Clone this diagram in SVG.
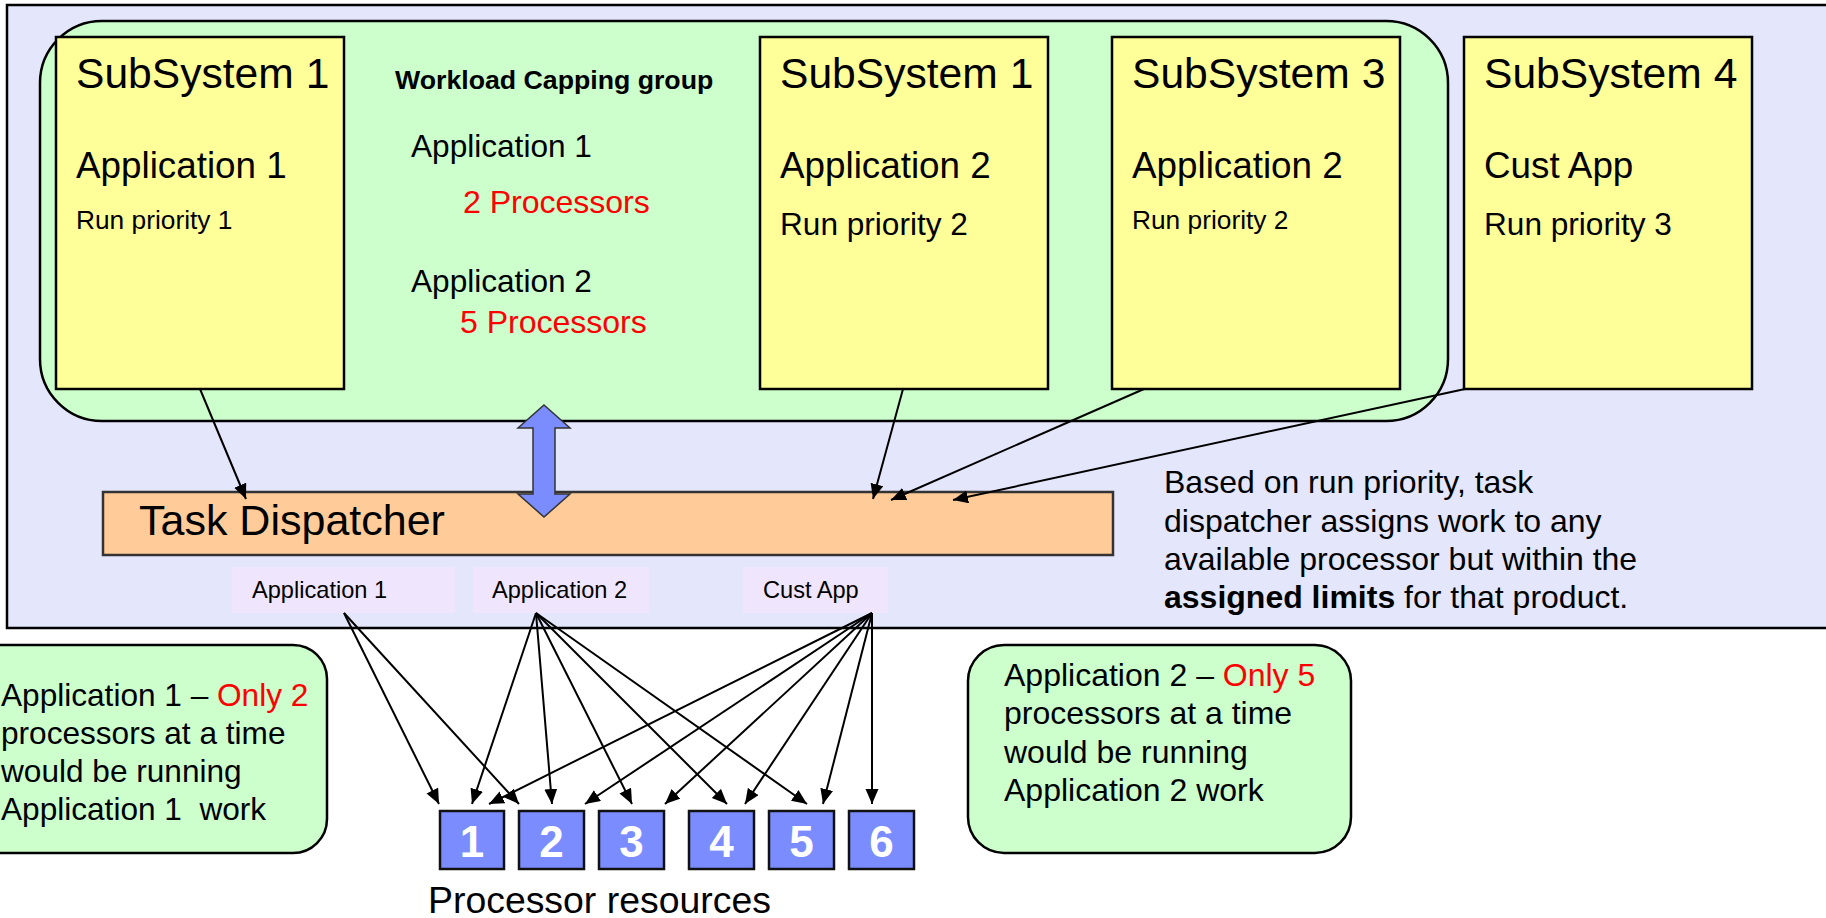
<svg xmlns="http://www.w3.org/2000/svg" width="1826" height="918" viewBox="0 0 1826 918">
<style>
text{font-family:"Liberation Sans",Arial,sans-serif;fill:#000}
.ss{fill:#FFFF99;stroke:#000;stroke-width:2.5}
.t42{font-size:42.6px}
.t36{font-size:36.8px}
.t31{font-size:31.6px}
.t32{font-size:32px}
.t26{font-size:26.3px}
.red{fill:#FF0000}
.lbl{fill:#EFE5FC}
.proc{fill:#7B8CFF;stroke:#111;stroke-width:2.5}
.num{font-size:44px;font-weight:bold;fill:#fff;text-anchor:middle}
.note{fill:#CCFFCC;stroke:#000;stroke-width:2.5}
.conn line{stroke:#000;stroke-width:2;marker-end:url(#ah)}
</style>
<defs>
<marker id="ah" markerUnits="userSpaceOnUse" markerWidth="16" markerHeight="14" refX="15" refY="6.5" orient="auto">
<path d="M0,0 L15,6.5 L0,13 z" fill="#000"/>
</marker>
</defs>
<rect x="0" y="0" width="1826" height="918" fill="#fff"/>
<g id="outer">
<rect x="7" y="5" width="1830" height="623" fill="#E4E6FB" stroke="#000" stroke-width="2.5"/>
</g>
<g id="capping-group">
<rect x="40" y="21" width="1408" height="400" rx="62" ry="62" fill="#CCFFCC" stroke="#000" stroke-width="2.5"/>
<text x="395" y="89" style="font-size:26.7px;font-weight:bold">Workload Capping group</text>
<text x="411" y="157" class="t31">Application 1</text>
<text x="463" y="213" class="t32 red">2 Processors</text>
<text x="411" y="292" class="t31">Application 2</text>
<text x="460" y="333" class="t32 red">5 Processors</text>
</g>
<g id="ss1a">
<rect class="ss" x="56" y="37" width="288" height="352"/>
<text x="76" y="88" class="t42">SubSystem 1</text>
<text x="76" y="178" class="t36">Application 1</text>
<text x="76" y="229" class="t26">Run priority 1</text>
</g>
<g id="ss1b">
<rect class="ss" x="760" y="37" width="288" height="352"/>
<text x="780" y="88" class="t42">SubSystem 1</text>
<text x="780" y="178" class="t36">Application 2</text>
<text x="780" y="235" class="t31">Run priority 2</text>
</g>
<g id="ss3">
<rect class="ss" x="1112" y="37" width="288" height="352"/>
<text x="1132" y="88" class="t42">SubSystem 3</text>
<text x="1132" y="178" class="t36">Application 2</text>
<text x="1132" y="229" class="t26">Run priority 2</text>
</g>
<g id="ss4">
<rect class="ss" x="1464" y="37" width="288" height="352"/>
<text x="1484" y="88" class="t42">SubSystem 4</text>
<text x="1484" y="178" class="t36">Cust App</text>
<text x="1484" y="235" class="t31">Run priority 3</text>
</g>
<g id="dispatcher">
<rect x="103" y="492" width="1010" height="63" fill="#FFCC99" stroke="#333" stroke-width="2.5"/>
<text x="139" y="535" style="font-size:43px">Task Dispatcher</text>
</g>
<g id="double-arrow">
<polygon points="544,405 570,428 555,428 555,494 570,494 544,517 518,494 533,494 533,428 518,428" fill="#7B8CFF" stroke="#333" stroke-width="1.5"/>
</g>
<g id="explanation">
<text x="1164" y="493" class="t32">Based on run priority, task</text>
<text x="1164" y="532" class="t32">dispatcher assigns work to any</text>
<text x="1164" y="570" class="t32">available processor but within the</text>
<text x="1164" y="608" class="t32"><tspan font-weight="bold">assigned limits</tspan> for that product.</text>
</g>
<g id="label-app1">
<rect class="lbl" x="232" y="567" width="223" height="46"/>
<text x="252" y="598" style="font-size:23.6px">Application 1</text>
</g>
<g id="label-app2">
<rect class="lbl" x="473" y="567" width="176" height="46"/>
<text x="492" y="598" style="font-size:23.6px">Application 2</text>
</g>
<g id="label-cust">
<rect class="lbl" x="743" y="567" width="145" height="46"/>
<text x="763" y="598" style="font-size:23.6px">Cust App</text>
</g>
<g id="note-app1">
<rect class="note" x="-40" y="645" width="367" height="208" rx="34" ry="34"/>
<text x="1" y="706" class="t31">Application 1 – <tspan class="red">Only 2</tspan></text>
<text x="1" y="744" class="t31">processors at a time</text>
<text x="1" y="782" class="t31">would be running</text>
<text x="1" y="820" class="t31" xml:space="preserve">Application 1  work</text>
</g>
<g id="note-app2">
<rect class="note" x="968" y="645" width="383" height="208" rx="36" ry="36"/>
<text x="1004" y="686" class="t32">Application 2 – <tspan class="red">Only 5</tspan></text>
<text x="1004" y="724" class="t32">processors at a time</text>
<text x="1004" y="763" class="t32">would be running</text>
<text x="1004" y="801" class="t32">Application 2 work</text>
</g>
<g id="processors">
<g id="p1"><rect class="proc" x="440" y="811" width="64" height="58"/><text class="num" x="472" y="857">1</text></g>
<g id="p2"><rect class="proc" x="519" y="811" width="65" height="58"/><text class="num" x="551.5" y="857">2</text></g>
<g id="p3"><rect class="proc" x="599" y="811" width="65" height="58"/><text class="num" x="631.5" y="857">3</text></g>
<g id="p4"><rect class="proc" x="689" y="811" width="65" height="58"/><text class="num" x="721.5" y="857">4</text></g>
<g id="p5"><rect class="proc" x="769" y="811" width="65" height="58"/><text class="num" x="801.5" y="857">5</text></g>
<g id="p6"><rect class="proc" x="849" y="811" width="65" height="58"/><text class="num" x="881.5" y="857">6</text></g>
<text x="428" y="913" style="font-size:37.4px">Processor resources</text>
</g>
<g id="connectors" class="conn">
<line x1="200" y1="389" x2="246" y2="499"/>
<line x1="903" y1="389" x2="873" y2="499"/>
<line x1="1144" y1="389" x2="891" y2="500"/>
<line x1="1465" y1="389" x2="953" y2="500"/>
<line x1="344" y1="613" x2="439" y2="804"/>
<line x1="344" y1="613" x2="519" y2="804"/>
<line x1="536" y1="613" x2="472" y2="804"/>
<line x1="536" y1="613" x2="552" y2="804"/>
<line x1="536" y1="613" x2="632" y2="804"/>
<line x1="536" y1="613" x2="727" y2="804"/>
<line x1="536" y1="613" x2="807" y2="804"/>
<line x1="872" y1="613" x2="489" y2="804"/>
<line x1="872" y1="613" x2="585" y2="804"/>
<line x1="872" y1="613" x2="665" y2="804"/>
<line x1="872" y1="613" x2="745" y2="804"/>
<line x1="872" y1="613" x2="823" y2="804"/>
<line x1="872" y1="613" x2="872" y2="804"/>
</g>
</svg>
